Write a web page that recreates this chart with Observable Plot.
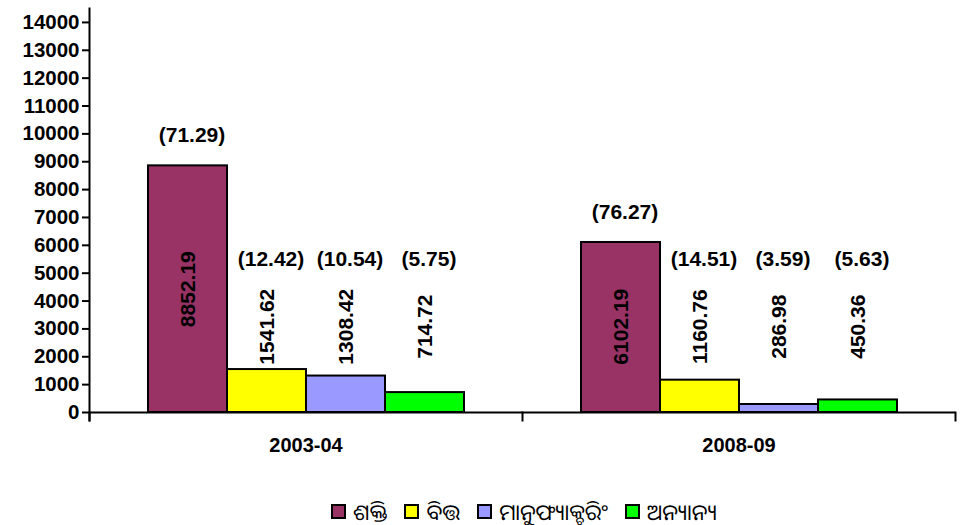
<!DOCTYPE html>
<html>
<head>
<meta charset="utf-8">
<script src="https://cdn.jsdelivr.net/npm/d3@7"></script>
<script src="https://cdn.jsdelivr.net/npm/@observablehq/plot@0.6"></script>
<style>
  html, body { margin: 0; padding: 0; background: #fff; }
  #wrap { position: relative; width: 960px; height: 525px; font-family: "Liberation Sans", Arial, sans-serif; }
  #legend { position: absolute; top: 494px; left: 0; width: 960px; display: flex; justify-content: center; align-items: center; gap: 15px; font-size: 22px; line-height: 34px; font-family: "Noto Sans Oriya", "Noto Sans", "Liberation Sans", sans-serif; color: #000; padding-left: 90px; box-sizing: border-box; }
  .item { display: flex; align-items: center; gap: 5px; }
  .item span { display: inline-block; line-height: 34px; padding: 0 2px; }
  .sw { width: 11px; height: 11px; border: 2px solid #000; }
</style>
</head>
<body>
<div id="wrap"><div id="chart"></div><div id="legend"></div></div>
<script>
const years = ["2003-04", "2008-09"];
const categories = ["ଶକ୍ତି", "ବିତ୍ତ", "ମାନୁଫ୍ୟାକ୍ଚରିଂ", "ଅନ୍ୟାନ୍ୟ"];
const colors = ["#993366", "#FFFF00", "#9999FF", "#00FF00"];
const values2003 = [8852.19, 1541.62, 1308.42, 714.72];
const values2008 = [6102.19, 1160.76, 286.98, 450.36];
const shares2003 = [71.29, 12.42, 10.54, 5.75];
const shares2008 = [76.27, 14.51, 3.59, 5.63];
const yTicks = d3.range(0, 14001, 1000);

const data = [];
categories.forEach((c, i) => data.push({year: years[0], cat: c, value: values2003[i], pct: shares2003[i]}));
categories.forEach((c, i) => data.push({year: years[1], cat: c, value: values2008[i], pct: shares2008[i]}));

const chart = Plot.plot({
  width: 960,
  height: 480,
  marginLeft: 88,
  marginRight: 5,
  marginTop: 8,
  marginBottom: 68,
  style: {fontFamily: "'Liberation Sans', Arial, sans-serif", fontWeight: "bold", color: "#000", background: "#fff"},
  fx: {domain: years, padding: 0, label: null},
  x: {domain: categories, paddingInner: 0, paddingOuter: 0.74, axis: null},
  y: {domain: [0, 14500], label: null},
  color: {domain: categories, range: colors},
  marks: [
    Plot.barY(data, {fx: "year", x: "cat", y: "value", fill: "cat", stroke: "#000", strokeWidth: 2}),
    Plot.ruleY([0], {stroke: "#000", strokeWidth: 2}),
    Plot.frame({anchor: "left", facet: "super", stroke: "#000", strokeWidth: 2, insetBottom: -8}),
    Plot.frame({anchor: "left", stroke: "#000", strokeWidth: 2, insetTop: 404, insetBottom: -8}),
    Plot.frame({anchor: "right", facet: "super", stroke: "#000", strokeWidth: 2, insetTop: 404, insetBottom: -8}),
    Plot.axisY({ticks: yTicks, tickFormat: d => String(d), tickSize: 7, tickPadding: 3, fontSize: 20.5, fontWeight: "bold", strokeWidth: 2, label: null}),
    Plot.axisFx({anchor: "bottom", tickSize: 0, tickPadding: 25, fontSize: 20, fontWeight: "bold", label: null}),
    Plot.text(data, {fx: "year", x: "cat", y: d => Math.max(d.value / 2, 3080), text: d => d.value.toFixed(2), rotate: -90, fontSize: 21, fontWeight: "bold", fill: "#000"}),
    Plot.text(data, {fx: "year", x: "cat", y: d => Math.max(d.value + 1100, 5500), text: d => `(${d.pct.toFixed(2)})`, dx: 4, fontSize: 21, fontWeight: "bold", fill: "#000"})
  ]
});
document.getElementById("chart").appendChild(chart);

const legend = document.getElementById("legend");
categories.forEach((c, i) => {
  const item = document.createElement("div");
  item.className = "item";
  const sw = document.createElement("div");
  sw.className = "sw";
  sw.style.background = colors[i];
  const t = document.createElement("span");
  t.textContent = c;
  item.appendChild(sw);
  item.appendChild(t);
  legend.appendChild(item);
});
</script>
</body>
</html>
